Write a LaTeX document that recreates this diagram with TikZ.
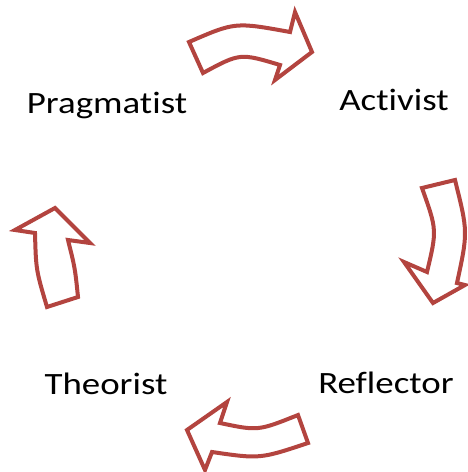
\documentclass[tikz,border=0pt]{standalone}
\usepackage{fontspec}
\setmainfont{Carlito}
\newfontfamily\lblfont{Carlito}[FakeStretch=1.19,Ligatures=NoCommon]
\definecolor{arrowred}{HTML}{B3443F}
\begin{document}
\begin{tikzpicture}[x=1pt,y=-1pt,
  cyc/.style={draw=arrowred,fill=white,line width=4pt,line join=miter,miter limit=4},
  lbl/.style={font=\lblfont\fontsize{31}{36}\selectfont,text=black,inner sep=0pt,anchor=base}]
\useasboundingbox (0,0) rectangle (467,472);
% top arrow (Pragmatist -> Activist)
\draw[cyc] (203,73) -- (189,42) .. controls (235,22) .. (290,32) -- (295,12) -- (312,52) -- (275,80) -- (280,65) .. controls (240,53) .. cycle;
% right arrow (Activist -> Reflector)
\draw[cyc] (422,188) -- (455,180) .. controls (468,232) .. (457,283) -- (465,285) -- (433,303) -- (404,262) -- (427,272) .. controls (437,230) .. cycle;
% bottom arrow (Reflector -> Theorist)
\draw[cyc] (298,415) -- (308,443) .. controls (260,459) .. (212,452) -- (205,470) -- (187,430) -- (227,402) -- (220,423) .. controls (258,431) .. cycle;
% left arrow (Theorist -> Pragmatist)
\draw[cyc] (47,307) -- (78,297) .. controls (75,268) .. (68,240) -- (90,243) -- (55,208) -- (15,230) -- (35,233) .. controls (36,270) .. cycle;
\node[lbl] (prag) at (107,113.3) {Pragmatist};
\node[lbl] (act) at (394,110) {Activist};
\node[lbl] (refl) at (386,393.3) {Reflector};
\node[lbl] (theo) at (106,394.3) {Theorist};
\end{tikzpicture}
\end{document}
